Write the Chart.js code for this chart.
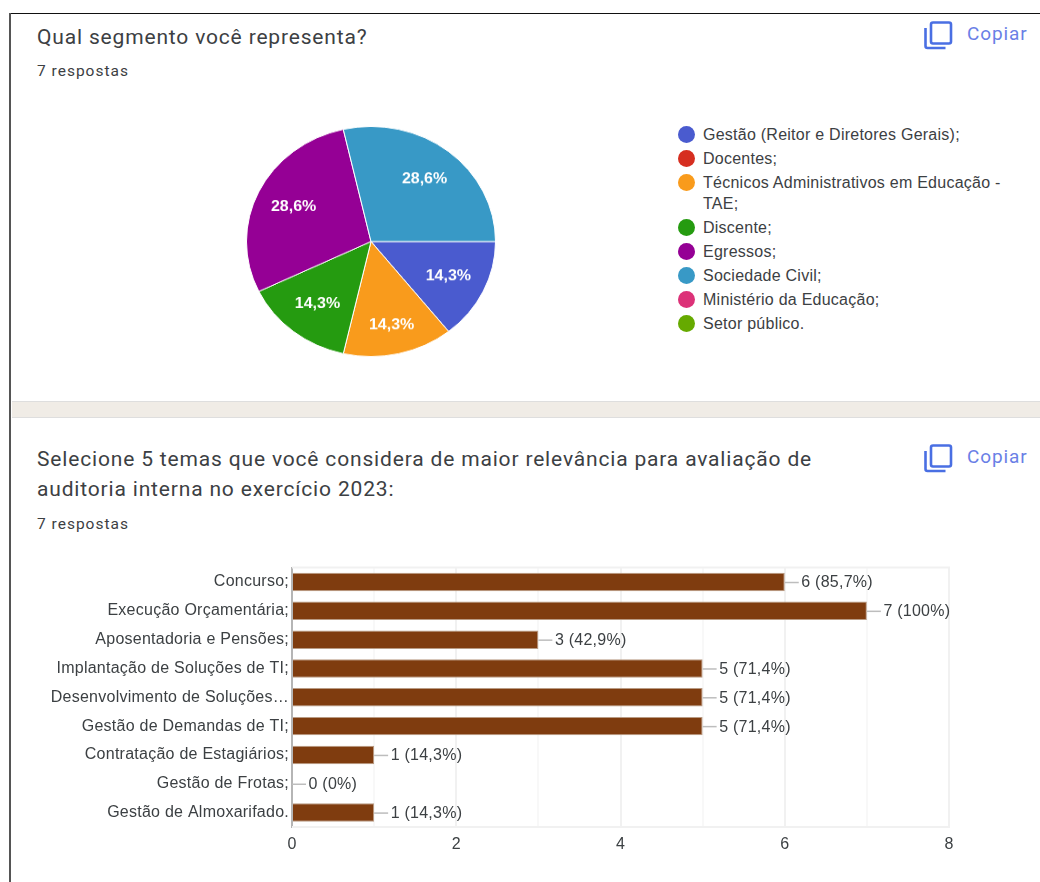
<!DOCTYPE html>
<html lang="pt">
<head>
<meta charset="utf-8">
<title>Respostas</title>
<script src="https://cdn.jsdelivr.net/npm/chart.js@4/dist/chart.umd.min.js"></script>
<style>
  html, body { margin: 0; padding: 0; background: #fff; }
  body { position: relative; width: 1040px; height: 882px; overflow: hidden; font-family: Roboto, sans-serif; }
  .frame-top { position: absolute; left: 9px; top: 13px; right: 0; height: 1px; background: #111; }
  .frame-left { position: absolute; left: 9px; top: 13px; bottom: 0; width: 1.5px; background: #555; }
  .band { position: absolute; left: 12px; right: 0; top: 401px; height: 17px; background: #f0ece6; border-top: 1px solid #dedede; border-bottom: 1px solid #dedede; box-sizing: border-box; }
  .title { position: absolute; left: 37px; font-size: 21px; line-height: 30px; color: #3c4043; letter-spacing: .83px; white-space: nowrap; }
  .sub { position: absolute; left: 37px; font-size: 15.5px; line-height: 20px; color: #3c4043; letter-spacing: 1px; }
  .copy { position: absolute; left: 967px; font-size: 19px; line-height: 24px; color: #6a7fe6; letter-spacing: .9px; }
  .icon { position: absolute; left: 923px; width: 30px; height: 30px; }
  canvas { position: absolute; }
  #legend { position: absolute; left: 678px; top: 122px; width: 340px; font-family: "Liberation Sans", Arial, sans-serif; font-size: 16px; letter-spacing: .25px; line-height: 21px; color: #3c4043; }
  #legend .row { position: relative; padding: 1.5px 0 1.5px 25px; }
  #legend .dot { position: absolute; left: 0; top: 3.5px; width: 17px; height: 17px; border-radius: 50%; }
</style>
</head>
<body>
<div class="frame-top"></div>
<div class="frame-left"></div>
<div class="band"></div>

<div class="title" style="top:22px">Qual segmento você representa?</div>
<div class="sub" style="top:61px">7 respostas</div>
<svg class="icon" style="top:20px" viewBox="0 0 30 30" fill="none" stroke="#4a6fe3" stroke-width="2.6"><path d="M2.5 8v18a2 2 0 0 0 2 2h18"/><rect x="8" y="2.5" width="20" height="21" rx="2"/></svg>
<div class="copy" style="top:22px">Copiar</div>
<canvas id="pie"></canvas>
<div id="legend"></div>

<div class="title" style="top:444px">Selecione 5 temas que você considera de maior relevância para avaliação de<br>auditoria interna no exercício 2023:</div>
<div class="sub" style="top:514px">7 respostas</div>
<svg class="icon" style="top:443px" viewBox="0 0 30 30" fill="none" stroke="#4a6fe3" stroke-width="2.6"><path d="M2.5 8v18a2 2 0 0 0 2 2h18"/><rect x="8" y="2.5" width="20" height="21" rx="2"/></svg>
<div class="copy" style="top:445px">Copiar</div>
<canvas id="bar"></canvas>

<script>
const segmentLabels = [
  'Gestão (Reitor e Diretores Gerais);',
  'Docentes;',
  'Técnicos Administrativos em Educação - TAE;',
  'Discente;',
  'Egressos;',
  'Sociedade Civil;',
  'Ministério da Educação;',
  'Setor público.'
];
const segmentValues = [1, 0, 1, 1, 2, 2, 0, 0];
const segmentPercents = ['14,3%', '', '14,3%', '14,3%', '28,6%', '28,6%', '', ''];
const segmentColors = ['#4a5bcf', '#d62e20', '#f99b1c', '#259b10', '#950095', '#3899c6', '#dc3278', '#66aa00'];

const themeLabels = [
  'Concurso;',
  'Execução Orçamentária;',
  'Aposentadoria e Pensões;',
  'Implantação de Soluções de TI;',
  'Desenvolvimento de Soluções…',
  'Gestão de Demandas de TI;',
  'Contratação de Estagiários;',
  'Gestão de Frotas;',
  'Gestão de Almoxarifado.'
];
const themeValues = [6, 7, 3, 5, 5, 5, 1, 0, 1];
const themeValueLabels = ['6 (85,7%)', '7 (100%)', '3 (42,9%)', '5 (71,4%)', '5 (71,4%)', '5 (71,4%)', '1 (14,3%)', '0 (0%)', '1 (14,3%)'];
const xTickLabels = { 0: '0', 2: '2', 4: '4', 6: '6', 8: '8' };

const chartFont = '"Liberation Sans", Arial, sans-serif';
const textColor = '#3c4043';
const chartFontSize = 16;

// legend is plain html so the TAE line wraps the way it does in forms
const legendBox = document.getElementById('legend');
segmentLabels.forEach((label, i) => {
  const row = document.createElement('div');
  row.className = 'row';
  row.innerHTML = '<span class="dot" style="background:' + segmentColors[i] + '"></span>' + label;
  legendBox.appendChild(row);
});

const sliceLabels = {
  id: 'sliceLabels',
  afterDatasetsDraw(chart) {
    const ctx = chart.ctx;
    ctx.save();
    ctx.font = 'bold 16px ' + chartFont;
    ctx.fillStyle = '#fff';
    ctx.textAlign = 'center';
    ctx.textBaseline = 'middle';
    chart.getDatasetMeta(0).data.forEach((arc, i) => {
      if (!segmentPercents[i]) return;
      const mid = (arc.startAngle + arc.endAngle) / 2;
      // the orange label sits further out than the others
      const r = arc.outerRadius * (i === 2 ? 0.745 : 0.69);
      ctx.fillText(segmentPercents[i], arc.x + Math.cos(mid) * r, arc.y + Math.sin(mid) * r);
    });
    ctx.restore();
  }
};

const plotFrame = {
  id: 'plotFrame',
  beforeDraw(chart) {
    // canvas text in the screenshot runs a little wide
    chart.ctx.letterSpacing = '.25px';
  },
  beforeDatasetsDraw(chart) {
    const { left, top, width, height } = chart.chartArea;
    const ctx = chart.ctx;
    ctx.save();
    ctx.strokeStyle = '#f1f1f1';
    ctx.lineWidth = 2;
    ctx.beginPath();
    ctx.moveTo(left, top);
    ctx.lineTo(left + width, top);
    ctx.lineTo(left + width, top + height);
    ctx.lineTo(left, top + height);
    ctx.stroke();
    ctx.restore();
  }
};

const barValueLabels = {
  id: 'barValueLabels',
  afterDatasetsDraw(chart) {
    const ctx = chart.ctx;
    ctx.save();
    ctx.font = chartFontSize + 'px ' + chartFont;
    ctx.textBaseline = 'middle';
    ctx.textAlign = 'left';
    chart.getDatasetMeta(0).data.forEach((bar, i) => {
      const x = chart.scales.x.getPixelForValue(themeValues[i]);
      ctx.strokeStyle = '#bdbdbd';
      ctx.lineWidth = 1.5;
      ctx.beginPath();
      ctx.moveTo(x, bar.y + 0.5);
      ctx.lineTo(x + 14, bar.y + 0.5);
      ctx.stroke();
      ctx.fillStyle = textColor;
      ctx.fillText(themeValueLabels[i], x + 16.5, bar.y + 1);
    });
    ctx.restore();
  }
};

function placeCanvas(id, left, top, width, height) {
  const canvas = document.getElementById(id);
  canvas.width = width;
  canvas.height = height;
  canvas.style.left = left + 'px';
  canvas.style.top = top + 'px';
  canvas.style.width = width + 'px';
  canvas.style.height = height + 'px';
  return canvas;
}

const pieCanvas = placeCanvas('pie', 246, 126, 250, 250);
new Chart(pieCanvas, {
  type: 'pie',
  data: {
    labels: segmentLabels,
    datasets: [{
      data: segmentValues,
      backgroundColor: segmentColors,
      borderColor: '#fff',
      borderWidth: 1
    }]
  },
  options: {
    responsive: false,
    animation: false,
    devicePixelRatio: 1,
    rotation: 90,
    plugins: { legend: { display: false }, tooltip: { enabled: false } }
  },
  plugins: [sliceLabels]
});
// pie is a bit squashed in the screenshot, so the canvas is shown less tall than it is
pieCanvas.style.height = '231px';

new Chart(placeCanvas('bar', 12, 555, 1000, 327), {
  type: 'bar',
  data: {
    labels: themeLabels,
    datasets: [{
      data: themeValues,
      backgroundColor: '#7f3c0f',
      borderColor: '#b99b84',
      borderWidth: 1,
      barPercentage: 0.64,
      categoryPercentage: 1
    }]
  },
  options: {
    indexAxis: 'y',
    responsive: false,
    animation: false,
    devicePixelRatio: 1,
    layout: { padding: { top: 12, right: 63, bottom: 0, left: 0 } },
    plugins: { legend: { display: false }, tooltip: { enabled: false } },
    scales: {
      x: {
        min: 0,
        max: 8,
        afterFit(scale) { scale.height = 55; },
        grid: {
          color: (c) => (c.tick.value % 2 ? '#f8f8f8' : '#f1f1f1'),
          lineWidth: 2,
          drawTicks: false
        },
        border: { display: false },
        ticks: {
          stepSize: 1,
          autoSkip: false,
          maxRotation: 0,
          padding: 8,
          color: textColor,
          font: { family: chartFont, size: chartFontSize },
          callback: (value) => xTickLabels[value] || ''
        }
      },
      y: {
        afterFit(scale) { scale.width = 280; },
        grid: { display: false, drawTicks: false },
        border: { color: '#b5b5b5', width: 2 },
        ticks: {
          autoSkip: false,
          padding: 3,
          color: textColor,
          font: { family: chartFont, size: chartFontSize }
        }
      }
    }
  },
  plugins: [plotFrame, barValueLabels]
});
</script>
</body>
</html>
